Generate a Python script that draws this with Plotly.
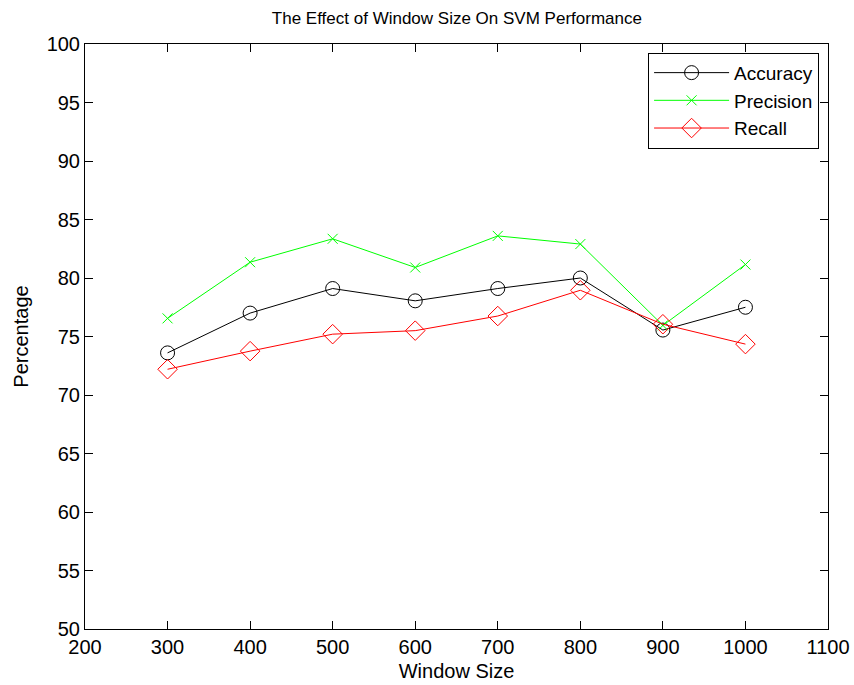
import plotly.graph_objects as go

window_size = [300, 400, 500, 600, 700, 800, 900, 1000]
accuracy = [73.6, 77.0, 79.1, 78.05, 79.1, 80.0, 75.55, 77.5]
precision = [76.55, 81.35, 83.35, 80.9, 83.6, 82.9, 75.95, 81.15]
recall = [72.2, 73.75, 75.2, 75.5, 76.75, 78.95, 76.05, 74.35]

x_ticks = [200, 300, 400, 500, 600, 700, 800, 900, 1000, 1100]
y_ticks = [50, 55, 60, 65, 70, 75, 80, 85, 90, 95, 100]

FONT = "Liberation Sans, Arial, Helvetica, sans-serif"
FS = 20

fig = go.Figure()
fig.add_trace(go.Scatter(
    x=window_size, y=accuracy, name="Accuracy", mode="lines+markers",
    line=dict(color="black", width=1),
    marker=dict(symbol="circle-open", size=14, color="black", line=dict(width=1)),
))
fig.add_trace(go.Scatter(
    x=window_size, y=precision, name="Precision", mode="lines+markers",
    line=dict(color="#00ff00", width=1),
    marker=dict(symbol="x-thin-open", size=10, color="#00ff00", line=dict(width=1, color="#00ff00")),
))
fig.add_trace(go.Scatter(
    x=window_size, y=recall, name="Recall", mode="lines+markers",
    line=dict(color="#ff0000", width=1),
    marker=dict(symbol="diamond-open", size=15, color="#ff0000", line=dict(width=1)),
))

axis_common = dict(
    showgrid=False, zeroline=False, showline=True, linecolor="black", linewidth=1,
    mirror="ticks", ticks="inside", ticklen=8, tickcolor="black", tickwidth=1,
    tickfont=dict(family=FONT, size=FS, color="black"), automargin=False,
)

fig.update_layout(
    width=854, height=685,
    margin=dict(l=85, r=26, t=44, b=56),
    paper_bgcolor="white", plot_bgcolor="white",
    title=dict(text="The Effect of Window Size On SVM Performance", x=0.535, xanchor="center",
               y=1 - 18 / 685, yanchor="middle",
               font=dict(family=FONT, size=17, color="black")),
    xaxis=dict(range=[200, 1100], tickvals=x_ticks, ticktext=[str(v) for v in x_ticks],
               title=dict(text="Window Size", font=dict(family=FONT, size=FS, color="black"), standoff=6),
               **axis_common),
    yaxis=dict(range=[50, 100], tickvals=y_ticks, ticktext=[str(v) for v in y_ticks],
               title=dict(text="Percentage", font=dict(family=FONT, size=FS, color="black"), standoff=12),
               **axis_common),
    legend=dict(x=0.988, y=0.985, xanchor="right", yanchor="top",
                bgcolor="white", bordercolor="black", borderwidth=1,
                font=dict(family=FONT, size=19, color="black"),
                tracegroupgap=0, itemwidth=75),
    showlegend=True,
)

fig.write_html("out.html")
